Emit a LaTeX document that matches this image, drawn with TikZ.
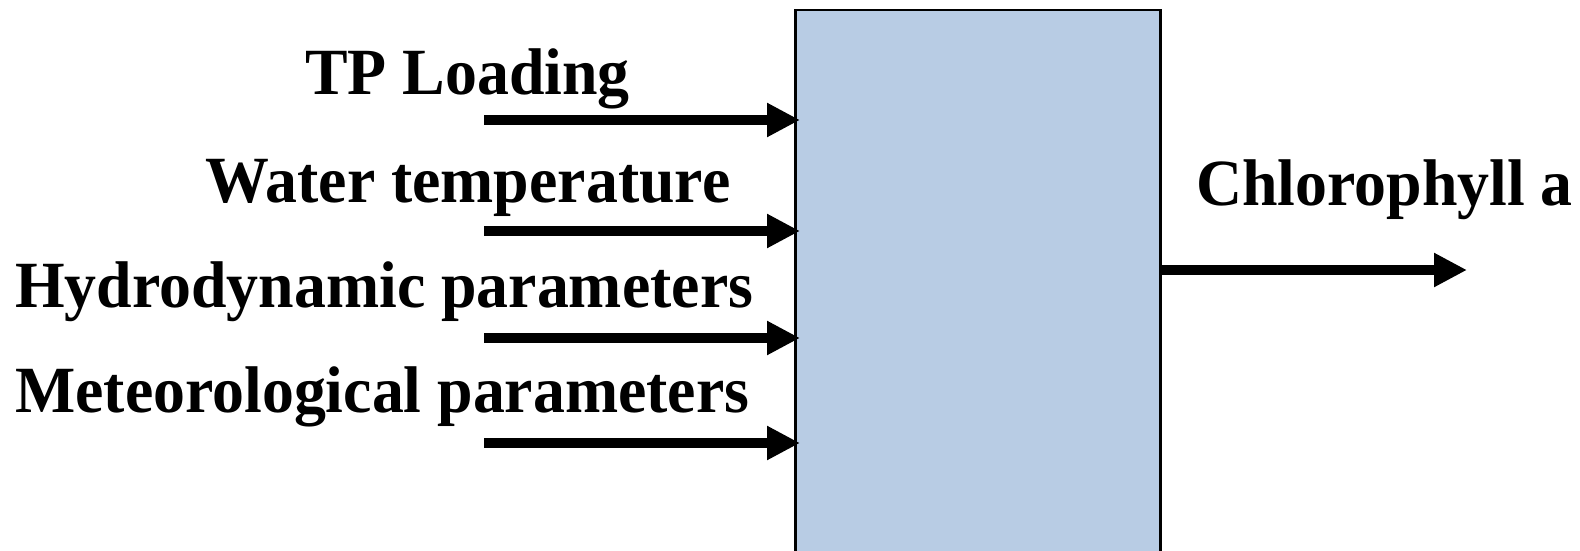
\documentclass[tikz,border=0pt]{standalone}
\usepackage{fontspec}
\setmainfont{Liberation Serif}[FakeStretch=0.967]
\usetikzlibrary{arrows.meta}
\definecolor{boxblue}{HTML}{B8CCE4}
\tikzset{
  lbl/.style={anchor=base west, inner sep=0pt, font=\fontsize{66}{76}\selectfont\bfseries},
  arr/.style={line width=10.5pt, -{Triangle[length=33pt,width=32pt]}},
}
\begin{document}
\begin{tikzpicture}[x=1pt,y=-1pt]
\useasboundingbox (0,0) rectangle (1580,551);
\clip (0,0) rectangle (1580,551);
\node[draw, line width=2.5pt, fill=boxblue, minimum width=365pt, minimum height=580pt, anchor=north west, inner sep=0pt] (model) at (794,9) {};
\node[lbl] (tp) at (305,94) {TP Loading};
\node[lbl] (wt) at (205,202) {Water temperature};
\node[lbl] (hp) at (15,307) {Hydrodynamic parameters};
\node[lbl] (mp) at (15,412) {Meteorological parameters};
\node[lbl] (ch) at (1196,205) {Chlorophyll a};
\coordinate (s1) at (484,120);
\coordinate (s2) at (484,231);
\coordinate (s3) at (484,338);
\coordinate (s4) at (484,443);
\coordinate (e1) at (800,120);
\coordinate (e2) at (800,231);
\coordinate (e3) at (800,338);
\coordinate (e4) at (800,443);
\coordinate (o1) at (1159,270);
\coordinate (o2) at (1467,270);
\draw[arr] (s1) -- (e1);
\draw[arr] (s2) -- (e2);
\draw[arr] (s3) -- (e3);
\draw[arr] (s4) -- (e4);
\draw[arr] (o1) -- (o2);
\end{tikzpicture}
\end{document}
